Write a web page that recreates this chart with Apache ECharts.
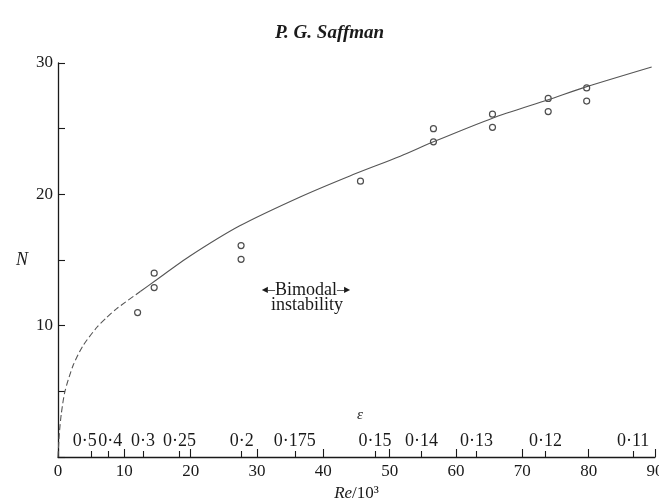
<!DOCTYPE html>
<html>
<head>
<meta charset="utf-8">
<script src="https://cdn.jsdelivr.net/npm/echarts@6/dist/echarts.min.js"></script>
<style>
  html, body { margin: 0; padding: 0; background: #fff; }
  #chart { width: 659px; height: 502px; }
</style>
</head>
<body>
<div id="chart"></div>
<script>
// observed wave numbers N at Re/10^3
const obsRe = [12.0, 14.5, 14.5, 27.6, 27.6, 45.6, 56.6, 56.6, 65.5, 65.5, 73.9, 73.9, 79.7, 79.7];
const obsN  = [11.0, 12.9, 14.0, 15.05, 16.1, 21.0, 24.0, 25.0, 25.1, 26.1, 26.3, 27.3, 27.1, 28.1];

// theoretical curve
const curveRe = [0, 0.2, 0.5, 1.05, 2.3, 3.8, 5.9, 7.3, 8.85, 12.4, 14.6, 19.9, 27.4, 36.5, 44.0, 51.6, 56.6, 65.5, 73.9, 79.7, 89.5];
const curveN  = [0, 1.8, 3.3, 5.0, 7.0, 8.5, 9.9, 10.6, 11.3, 12.6, 13.4, 15.3, 17.6, 19.8, 21.4, 22.9, 24.0, 25.8, 27.2, 28.2, 29.7];
const dashedUpTo = 9; // curve is broken (dashed) up to this index

// secondary epsilon scale along the Re axis
const epsRe     = [5.0, 7.5, 12.8, 18.3, 27.7, 35.7, 47.8, 54.8, 63.1, 73.5, 86.7];
const epsLabels = ['0·5', '0·4', '0·3', '0·25', '0·2', '0·175', '0·15', '0·14', '0·13', '0·12', '0·11'];

const serif = '"Liberation Serif", "DejaVu Serif", serif';
const ink = '#1a1a1a';

const pairs = (xs, ys) => xs.map((x, i) => [x, ys[i]]);
const curve = pairs(curveRe, curveN);

// labels alternate between two hidden axes so the crowded 0·5 / 0·4 pair both show;
// the first two are nudged apart the way the printed figure sets them
const epsEven = epsRe.filter((_, i) => i % 2 === 0);
const epsOdd  = epsRe.filter((_, i) => i % 2 === 1);
const epsText = v => {
  let best = 0;
  epsRe.forEach((r, i) => { if (Math.abs(r - v) < Math.abs(epsRe[best] - v)) best = i; });
  if (best === 0) return '{l|' + epsLabels[best] + '}';
  if (best === 1) return '{r|' + epsLabels[best] + '}';
  return epsLabels[best];
};
const epsFont = { color: ink, fontFamily: serif, fontSize: 18 };
const epsAxis = (vals, withTicks) => ({
  type: 'value', min: 0, max: 90, position: 'bottom',
  axisLine: { show: false },
  axisTick: withTicks
    ? { inside: true, length: 6, customValues: epsRe, lineStyle: { color: ink, width: 1.1 } }
    : { show: false },
  axisLabel: Object.assign({
    inside: true, margin: 7, customValues: vals,
    hideOverlap: false, showMinLabel: true, showMaxLabel: true,
    formatter: epsText,
    rich: {
      l: Object.assign({ padding: [0, 13, 0, 0] }, epsFont),
      r: Object.assign({ padding: [0, 0, 0, 5] }, epsFont)
    }
  }, epsFont),
  splitLine: { show: false }
});

const chart = echarts.init(document.getElementById('chart'));

chart.setOption({
  animation: false,
  backgroundColor: '#fff',
  title: {
    text: 'P. G. Saffman',
    left: 'center',
    top: 19,
    textStyle: { fontFamily: serif, fontStyle: 'italic', fontWeight: 'bold', fontSize: 19, color: ink }
  },
  grid: { left: 58, right: 4, top: 63, bottom: 45, containLabel: false, outerBoundsMode: 'none' },
  xAxis: [
    {
      type: 'value', min: 0, max: 90, interval: 10,
      axisLine: { lineStyle: { color: ink, width: 1.3 } },
      axisTick: { inside: true, length: 8, lineStyle: { color: ink, width: 1.1 } },
      axisLabel: { color: ink, fontFamily: serif, fontSize: 17, margin: 6 },
      splitLine: { show: false },
      name: '{i|Re}/10³',
      nameLocation: 'middle',
      nameGap: 13,
      nameTextStyle: {
        color: ink, fontFamily: serif, fontSize: 17,
        rich: { i: { fontFamily: serif, fontStyle: 'italic', fontSize: 17, color: ink } }
      }
    },
    epsAxis(epsEven, true),
    epsAxis(epsOdd, false)
  ],
  yAxis: {
    type: 'value', min: 0, max: 30, interval: 5,
    axisLine: { show: true, lineStyle: { color: ink, width: 1.3 } },
    axisTick: { inside: true, length: 7, lineStyle: { color: ink, width: 1.1 } },
    axisLabel: {
      color: ink, fontFamily: serif, fontSize: 17, margin: 5,
      formatter: v => (v > 0 && v % 10 === 0 ? String(v) : '')
    },
    splitLine: { show: false },
    name: 'N',
    nameLocation: 'middle',
    nameRotate: 0,
    nameGap: 30,
    nameTextStyle: { color: ink, fontFamily: serif, fontStyle: 'italic', fontSize: 18 }
  },
  graphic: [
    {
      type: 'text', x: 360, y: 415,
      style: { text: 'ε', align: 'center', verticalAlign: 'middle', fontFamily: serif, fontStyle: 'italic', fontSize: 15, fill: ink }
    },
    {
      type: 'text', x: 306, y: 290,
      style: {
        text: '{a|◀}{d|–}Bimodal{d|–}{a|▶}',
        align: 'center', verticalAlign: 'middle',
        fontFamily: serif, fontSize: 18, fill: ink,
        rich: {
          a: { fontFamily: '"DejaVu Sans", sans-serif', fontSize: 8, fill: ink },
          d: { fontFamily: serif, fontSize: 14, fill: ink }
        }
      }
    },
    {
      type: 'text', x: 307, y: 305,
      style: { text: 'instability', align: 'center', verticalAlign: 'middle', fontFamily: serif, fontSize: 18, fill: ink }
    }
  ],
  series: [
    {
      type: 'line', data: curve.slice(0, dashedUpTo + 1),
      smooth: 0.25, symbol: 'none',
      lineStyle: { color: '#555', width: 1.1, type: [6, 3] }
    },
    {
      type: 'line', data: curve.slice(dashedUpTo),
      smooth: 0.25, symbol: 'none',
      lineStyle: { color: '#555', width: 1.1 }
    },
    {
      type: 'scatter', data: pairs(obsRe, obsN),
      symbol: 'circle', symbolSize: 6,
      itemStyle: { color: '#fff', borderColor: '#222', borderWidth: 1.2 }
    }
  ]
});
</script>
</body>
</html>
